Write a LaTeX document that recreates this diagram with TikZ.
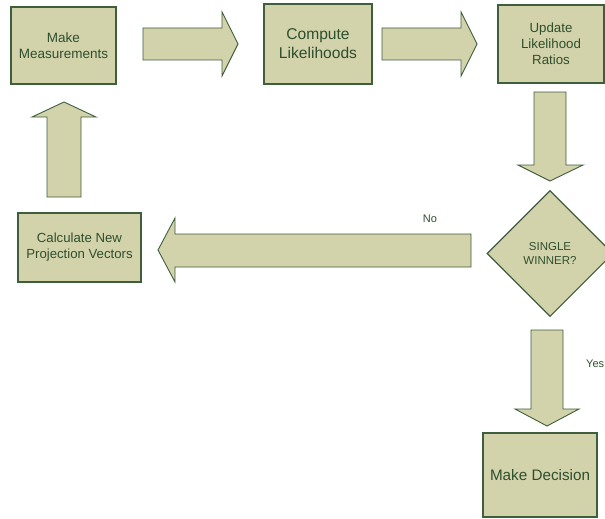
\documentclass[tikz,border=0pt]{standalone}
\usepackage{fontspec}
\setmainfont{Liberation Sans}
\usetikzlibrary{shapes.geometric}
\definecolor{boxfill}{RGB}{211,211,171}
\definecolor{boxline}{RGB}{62,94,62}
\definecolor{boxtext}{RGB}{46,78,46}
\tikzset{
    procbox/.style={draw=boxline, fill=boxfill, line width=1.1pt, inner sep=0pt,
        align=center, text=boxtext},
    blockarrow/.style={draw=boxline, fill=boxfill, line width=0.9pt, line join=miter},
    label/.style={text=boxtext, inner sep=0pt}
}

\begin{document}
\begin{tikzpicture}[x=1pt, y=-1pt]
    \useasboundingbox (0,0) rectangle (605,519);
    \clip (0,0) rectangle (605,519);
    % boxes
    \node[procbox, minimum width=105pt, minimum height=77pt,
          font=\fontsize{13.5}{15.6}\selectfont] (meas) at (63.5,45.5) {Make\\Measurements};
    \node[procbox, minimum width=108pt, minimum height=80pt,
          font=\fontsize{15.6}{19}\selectfont] (comp) at (318,44) {Compute\\Likelihoods};
    \node[procbox, minimum width=106pt, minimum height=78pt,
          font=\fontsize{13.3}{16}\selectfont] (upd) at (551,44) {Update\\Likelihood\\Ratios};
    \node[procbox, diamond, minimum width=126pt, minimum height=126pt,
          font=\fontsize{11.5}{14.3}\selectfont] (win) at (550,253.5) {SINGLE\\WINNER?};
    \node[procbox, minimum width=123pt, minimum height=69pt,
          font=\fontsize{13.2}{16}\selectfont] (calc) at (79.5,247.5) {Calculate New\\Projection Vectors};
    \node[procbox, minimum width=114pt, minimum height=84pt,
          font=\fontsize{15.25}{18}\selectfont] (dec) at (540,475) {Make Decision};
    % block arrows
    \draw[blockarrow] (143,28) -- (222,28) -- (222,12) -- (238,44) -- (222,76) -- (222,60) -- (143,60) -- cycle;
    \draw[blockarrow] (382,28) -- (461,28) -- (461,12) -- (477,44) -- (461,76) -- (461,60) -- (382,60) -- cycle;
    \draw[blockarrow] (534,92) -- (566,92) -- (566,165) -- (583,165) -- (550,181) -- (518,165) -- (534,165) -- cycle;
    \draw[blockarrow] (471,234) -- (175,234) -- (175,218) -- (158,250) -- (175,282) -- (175,267) -- (471,267) -- cycle;
    \draw[blockarrow] (531,330) -- (563,330) -- (563,409) -- (579,409) -- (547,426) -- (515,409) -- (531,409) -- cycle;
    \draw[blockarrow] (47,197) -- (47,117) -- (32,117) -- (64,102) -- (96,117) -- (81,117) -- (81,197) -- cycle;
    % branch labels
    \node[label, font=\fontsize{11}{12}\selectfont] (no) at (430,219) {No};
    \node[label, anchor=west, font=\fontsize{11}{12}\selectfont] (yes) at (586,364) {Yes};
\end{tikzpicture}
\end{document}
